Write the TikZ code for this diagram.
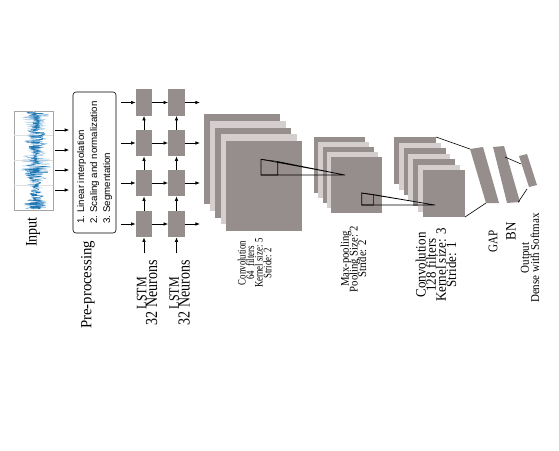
\documentclass[tikz,border=0pt]{standalone}
\usepackage{fontspec}
\setmainfont{Liberation Serif}
\newfontfamily\listfont{Liberation Sans}
\usetikzlibrary{arrows.meta}
\definecolor{blk}{RGB}{150,141,141}
\definecolor{lyr}{RGB}{212,206,206}
\definecolor{sig}{RGB}{31,119,180}
\definecolor{sigl}{RGB}{150,195,228}
% rotated label: [stretch]{size}{pitch}{rows separated by \cr}
\newcommand{\lbl}[4][1]{\scalebox{1}[#1]{\vbox{\fontsize{#2}{#3}\selectfont
  \lineskiplimit=-\maxdimen\halign{\hfil##\hfil\cr#4\crcr}}}}
\tikzset{
  cell/.style={fill=blk, minimum width=16.5pt, minimum height=26.5pt, inner sep=0pt},
  arr/.style={-{Latex[length=4.5pt,width=3.6pt]}, line width=0.7pt},
  lab/.style={rotate=90, inner sep=0pt},
  kern/.style={line width=0.6pt}
}
\begin{document}
\begin{tikzpicture}[x=1pt,y=-1pt]
    \useasboundingbox (0,0) rectangle (559,450);
    % --- INPUT SIGNAL ---
    \node[draw=gray!70, line width=0.5pt, minimum width=39pt, minimum height=99pt, inner sep=0pt] (inp) at (33.5,160.5) {};
    \begin{scope}
      \clip (14,111) rectangle (53,210);
      \foreach \y in {135,160,185} \draw[gray!25, line width=0.3pt] (14,\y) -- (53,\y);
      \draw[gray!25, line width=0.3pt] (33.5,111) -- (33.5,210);
      \pgfmathsetseed{11}
      \draw[sigl, line width=0.35pt] plot[domain=112:209, samples=240] ({36+(11+5*sin(7*\x))*rand}, \x);
      \draw[sig, line width=0.4pt] plot[domain=112:209, samples=260] ({36+(8+4*sin(11*\x))*rand}, \x);
    \end{scope}
    \node[lab] (inpl) at (33,232) {\lbl[1.15]{14}{14}{Input}};

    % --- PRE-PROCESSING ---
    \node[draw, rounded corners=3pt, line width=0.6pt, rotate=90, minimum width=141pt, minimum height=43pt,
          align=left, font=\listfont\fontsize{9.7}{13}\selectfont] (pre) at (94.5,162.5)
          {1.\ Linear interpolation\\2.\ Scaling and normalization\\3.\ Segmentation};
    \node[lab] (prel) at (88,285) {\lbl[1.05]{14.8}{14}{Pre-processing}};
    \foreach \y [count=\i] in {130,150,170,190} {
      \coordinate (in\i) at (0,\y);
      \draw[arr, shorten <=2pt, shorten >=3.5pt] (inp.east |- in\i) -- (pre.north |- in\i);
    }

    % --- LSTM ---
    \foreach \r/\y in {1/102.5,2/143,3/183,4/224} {
      \node[cell] (a\r) at (144,\y) {};
      \node[cell] (b\r) at (176.5,\y) {};
    }
    \foreach \r in {1,...,4} {
      \draw[arr, shorten <=5pt] (pre.south |- a\r) -- (a\r);
      \draw[arr] (a\r) -- (b\r);
      \draw[arr] (b\r.east) -- ++(15,0);
    }
    \foreach \r/\s in {4/3,3/2,2/1} {
      \draw[arr] (a\r) -- (a\s);
      \draw[arr] (b\r) -- (b\s);
    }
    \node[lab] (la) at (147,293) {\lbl[1.2]{14}{9}{{\fontsize{12}{9}\selectfont LSTM}\cr 32 Neurons}};
    \node[lab] (lb) at (179.5,293) {\lbl[1.2]{14}{9}{{\fontsize{12}{9}\selectfont LSTM}\cr 32 Neurons}};
    \draw[arr, shorten <=7pt] (a4 |- la.east) -- (a4);
    \draw[arr, shorten <=7pt] (b4 |- lb.east) -- (b4);

    % --- CONVOLUTION 1 ---
    \foreach \i/\c in {0/blk,1/lyr,2/blk,3/lyr,4/blk}
      \fill[\c] ({204+5.5*\i},{114+6.75*\i}) rectangle ++(76,90);
    % --- MAX-POOLING ---
    \foreach \i/\c in {0/blk,1/lyr,2/blk,3/lyr,4/blk}
      \fill[\c] ({314+4.25*\i},{137+5*\i}) rectangle ++(51,56);
    % --- CONVOLUTION 2 ---
    \foreach \i/\c in {0/blk,1/lyr,2/blk,3/lyr,4/blk,5/lyr,6/blk}
      \fill[\c] ({394+4.83*\i},{137+5.5*\i}) rectangle ++(42,47);

    % kernels
    \coordinate (p1) at (345,175);
    \draw[kern] (261,159.3) -- (277.7,161.5) -- (277.7,175) -- (261,175) -- cycle;
    \draw[kern] (261,159.3) -- (p1) (277.7,161.5) -- (p1) (261,175) -- (p1);
    \coordinate (p2) at (435,205);
    \draw[kern] (361.7,193) -- (373.3,194.5) -- (373.3,205) -- (361.7,205) -- cycle;
    \draw[kern] (361.7,193) -- (p2) (373.3,194.5) -- (p2) (361.7,205) -- (p2);

    % --- GAP / BN / OUTPUT ---
    \fill[blk] (470,149) -- (483,147) -- (499,203) -- (486,203) -- cycle;
    \fill[blk] (493,147) -- (504,146) -- (520,202) -- (507,203) -- cycle;
    \fill[blk] (519,156) -- (527,154) -- (537,185) -- (529,187) -- cycle;
    \draw[kern] (436,137) -- (470,149);
    \draw[kern] (465,217) -- (486,203);
    \draw[kern] (505,157) -- (521,164);
    \draw[kern] (518,202.5) -- (527,189);

    % labels
    \node[lab] (c1l) at (254.5,263) {\lbl[1.3]{8.8}{6.6}{Convolution\cr 64 \ filters\cr Kernel size: 5\cr Stride: 2}};
    \node[lab] (mpl) at (353.5,259) {\lbl[1.1]{10.7}{7.8}{Max-pooling\cr Pooling Size: 2\cr Stride: 2}};
    \node[lab] (c2l) at (436,265) {\lbl[1.1]{13}{9.3}{Convolution\cr 128 filters\cr Kernel size: 3\cr Stride: 1}};
    \node[lab] (gapl) at (493,241) {\lbl[1.2]{11}{11}{GAP}};
    \node[lab] (bnl) at (511,231) {\lbl[1.1]{13}{13}{BN}};
    \node[lab] (outl) at (530,258) {\lbl[1.1]{11}{9.2}{Output\cr Dense with Softmax}};
\end{tikzpicture}
\end{document}
